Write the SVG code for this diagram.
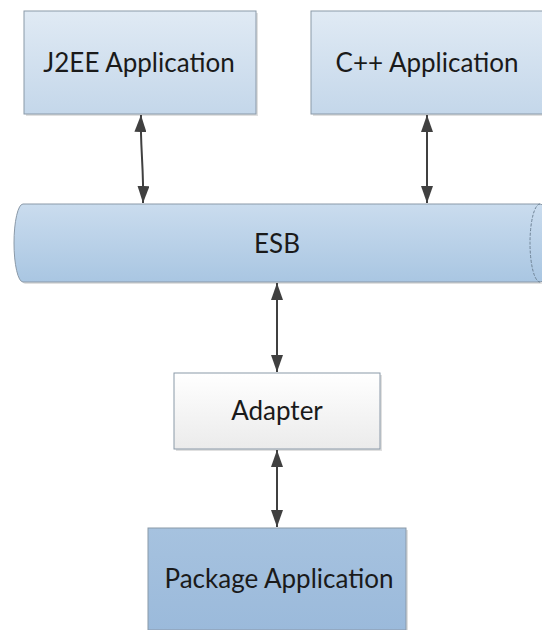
<svg xmlns="http://www.w3.org/2000/svg" width="542" height="630" viewBox="0 0 542 630">
  <defs>
    <linearGradient id="appFill" x1="0" y1="0" x2="0" y2="1">
      <stop offset="0" stop-color="#e0eaf4"/>
      <stop offset="1" stop-color="#c4d7ea"/>
    </linearGradient>
    <linearGradient id="busFill" x1="0" y1="0" x2="0" y2="1">
      <stop offset="0" stop-color="#cadcee"/>
      <stop offset="1" stop-color="#a9c6e2"/>
    </linearGradient>
    <linearGradient id="adapterFill" x1="0" y1="0" x2="0" y2="1">
      <stop offset="0" stop-color="#ffffff"/>
      <stop offset="1" stop-color="#ebebeb"/>
    </linearGradient>
    <linearGradient id="pkgFill" x1="0" y1="0" x2="0" y2="1">
      <stop offset="0" stop-color="#a6c2df"/>
      <stop offset="1" stop-color="#9bbadb"/>
    </linearGradient>
    <marker id="tip" viewBox="0 0 17 12" refX="17" refY="6" markerWidth="17" markerHeight="12" markerUnits="userSpaceOnUse" orient="auto-start-reverse">
      <path d="M0,0 L17,6 L0,12 Z" fill="#404040"/>
    </marker>
  </defs>
  <style>
    .box { stroke: #8a99a8; stroke-width: 1; }
    .shadow { fill: #000; opacity: 0.12; }
    .label { font-family: Lato, "Open Sans", "Liberation Sans", sans-serif; font-size: 26px; fill: #1a1a1a; text-anchor: middle; }
    .link { fill: none; stroke: #404040; stroke-width: 2; marker-start: url(#tip); marker-end: url(#tip); }
  </style>

  <rect width="542" height="630" fill="#ffffff"/>

  <g id="j2ee-app">
    <rect class="shadow" x="26" y="13" width="232" height="103"/>
    <rect class="box" x="24" y="11" width="232" height="103" fill="url(#appFill)"/>
    <text class="label" x="139" y="72">J2EE Application</text>
  </g>

  <g id="cpp-app">
    <rect class="shadow" x="313" y="13" width="232" height="103"/>
    <rect class="box" x="311" y="11" width="232" height="103" fill="url(#appFill)"/>
    <text class="label" x="427" y="72">C++ Application</text>
  </g>

  <g id="esb">
    <path d="M25,206 L541,206 A12,39 0 0 1 541,284 L25,284 A9,39 0 0 1 25,206 Z" class="shadow"/>
    <path d="M23,204 L540,204 A12,39 0 0 1 540,282 L23,282 A9,39 0 0 1 23,204 Z" class="box" fill="url(#busFill)"/>
    <path d="M540,204 A10,39 0 0 0 540,282" fill="none" stroke="#6f8396" stroke-width="1" stroke-dasharray="3 1.5"/>
    <text class="label" x="277" y="253">ESB</text>
  </g>

  <g id="adapter">
    <rect class="shadow" x="176" y="375" width="206" height="76"/>
    <rect class="box" x="174" y="373" width="206" height="76" fill="url(#adapterFill)"/>
    <text class="label" x="277" y="420">Adapter</text>
  </g>

  <g id="package-app">
    <rect class="shadow" x="150" y="530" width="258" height="102"/>
    <rect class="box" x="148" y="528" width="258" height="102" fill="url(#pkgFill)"/>
    <text class="label" x="279" y="588">Package Application</text>
  </g>

  <g id="connectors">
    <path class="link" d="M141,115 C140,145 144,170 143,203"/>
    <path class="link" d="M427,115 L427,203"/>
    <path class="link" d="M277,283 L277,372"/>
    <path class="link" d="M277,450 L277,527"/>
  </g>
</svg>
